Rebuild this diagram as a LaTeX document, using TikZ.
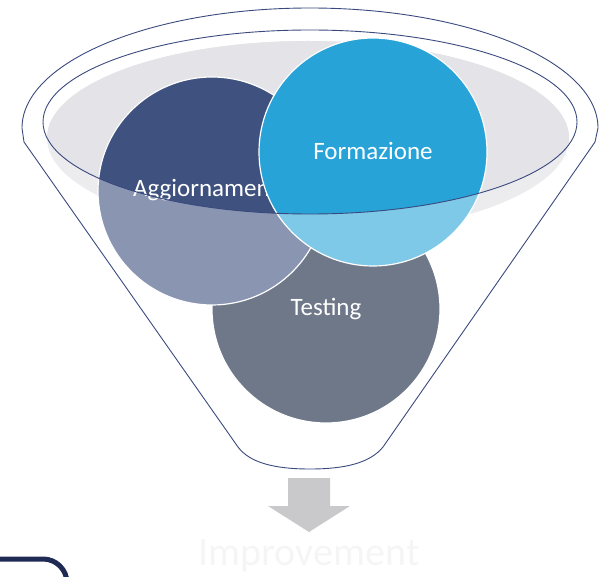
\documentclass[tikz,border=0pt]{standalone}
\usepackage{fontspec}
\setmainfont{Carlito}

\definecolor{rim}{HTML}{3B4A7E}
\definecolor{glassHi}{HTML}{E3E3E8}
\definecolor{glassLo}{HTML}{ECECEF}
\definecolor{aggDark}{HTML}{3F527F}
\definecolor{aggLight}{HTML}{8A95B2}
\definecolor{formDark}{HTML}{27A3D8}
\definecolor{formLight}{HTML}{7EC8E8}
\definecolor{testGray}{HTML}{6F7888}
\definecolor{arrowGray}{HTML}{C9C9CB}
\definecolor{faint}{HTML}{F5F5F5}
\definecolor{navy}{HTML}{1F2A55}

\begin{document}
\begin{tikzpicture}[x=1pt, y=-1pt,
    lbl/.style={text=white, anchor=base, font=\fontsize{25}{28}\selectfont},
    funnel/.style={draw=rim, line width=0.9pt}]
      \clip (0,0) rectangle (605,577);

      % glass of the funnel
      \fill[glassLo] (308,138) ellipse [x radius=261, y radius=97];
      \begin{scope}
        \clip (310,122) ellipse [x radius=267, y radius=92];
        \fill[glassHi] (308,138) ellipse [x radius=261, y radius=97];
      \end{scope}

      % the three circles
      \fill[testGray] (326,309) circle (114);
      \draw[white, line width=1.2pt] (326,309) circle (114);
      \node[lbl] (testing) at (326,316) {Testing};

      \fill[aggLight] (212,191) circle (114);
      \begin{scope}
        \clip (310,122) ellipse [x radius=267, y radius=92];
        \fill[aggDark] (212,191) circle (114);
      \end{scope}
      \draw[white, line width=1.2pt] (212,191) circle (114);
      \node[lbl] (aggio) at (212,197) {Aggiornamento};

      \fill[formLight] (373,152) circle (114);
      \begin{scope}
        \clip (310,122) ellipse [x radius=267, y radius=92];
        \fill[formDark] (373,152) circle (114);
      \end{scope}
      \draw[white, line width=1.2pt] (373,152) circle (114);
      \node[lbl] (formazione) at (373,160) {Formazione};

      % rims and body
      \draw[funnel] (310,122) ellipse [x radius=267, y radius=92];
      \draw[funnel] (22,128) arc[start angle=180, end angle=360, x radius=288, y radius=120]
        -- (595,142) -- (383,447) .. controls (370,463) and (345,469) .. (310,469)
        .. controls (275,469) and (250,463) .. (238,447) -- (24,142) -- cycle;

      % output
      \fill[arrowGray] (288,478) -- (330,478) -- (330,506) -- (350,506) -- (309,532)
        -- (268,506) -- (288,506) -- cycle;
      \node[anchor=base, text=faint, font=\fontsize{40}{44}\selectfont] (improve) at (309,565) {Improvement};

      \draw[navy, line width=5pt, rounded corners=24pt] (-30,559) -- (67,559) -- (67,620);
\end{tikzpicture}
\end{document}
